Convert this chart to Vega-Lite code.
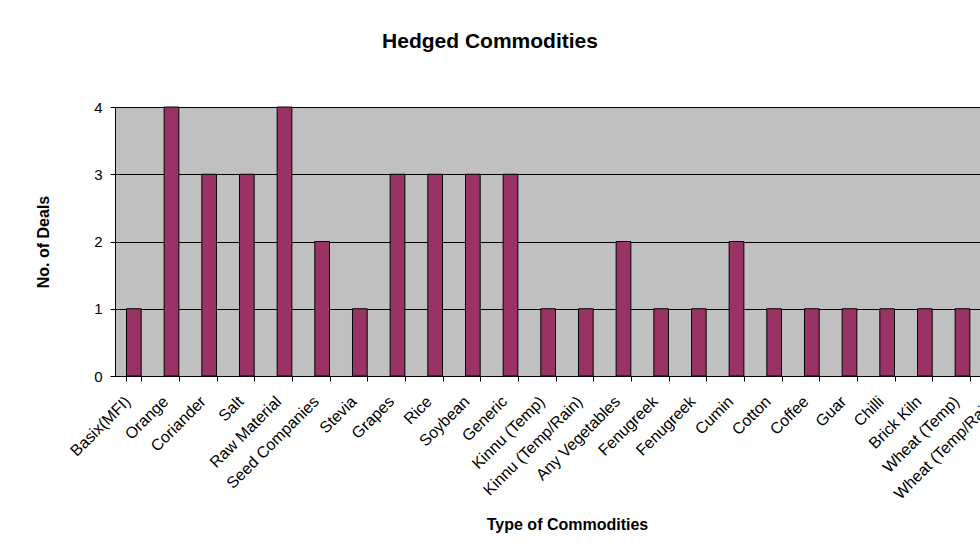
{
  "$schema": "https://vega.github.io/schema/vega-lite/v6.json",
  "autosize": {"type": "none"},
  "padding": {"left": 115, "top": 107, "right": 0, "bottom": 175},
  "width": 904,
  "height": 269,
  "background": "white",
  "title": {
    "text": "Hedged Commodities",
    "font": "Liberation Sans",
    "fontSize": 21,
    "fontWeight": "bold",
    "color": "black",
    "anchor": "middle",
    "dx": -77,
    "offset": 48
  },
  "data": {
    "values": [
      {"commodity": "Basix(MFI)", "deals": 1},
      {"commodity": "Orange", "deals": 4},
      {"commodity": "Coriander", "deals": 3},
      {"commodity": "Salt", "deals": 3},
      {"commodity": "Raw Material", "deals": 4},
      {"commodity": "Seed Companies", "deals": 2},
      {"commodity": "Stevia", "deals": 1},
      {"commodity": "Grapes", "deals": 3},
      {"commodity": "Rice", "deals": 3},
      {"commodity": "Soybean", "deals": 3},
      {"commodity": "Generic", "deals": 3},
      {"commodity": "Kinnu (Temp)", "deals": 1},
      {"commodity": "Kinnu (Temp/Rain)", "deals": 1},
      {"commodity": "Any Vegetables", "deals": 2},
      {"commodity": "Fenugreek", "deals": 1},
      {"commodity": "Fenugreek ", "deals": 1},
      {"commodity": "Cumin", "deals": 2},
      {"commodity": "Cotton", "deals": 1},
      {"commodity": "Coffee", "deals": 1},
      {"commodity": "Guar", "deals": 1},
      {"commodity": "Chilli", "deals": 1},
      {"commodity": "Brick Kiln", "deals": 1},
      {"commodity": "Wheat (Temp)", "deals": 1},
      {"commodity": "Wheat (Temp/Rain)", "deals": 1}
    ]
  },
  "mark": {"type": "bar", "color": "#993366", "stroke": "black", "strokeWidth": 1},
  "encoding": {
    "x": {
      "field": "commodity",
      "type": "nominal",
      "sort": null,
      "scale": {"paddingInner": 0.61, "paddingOuter": 0.305},
      "axis": {
        "title": "Type of Commodities",
        "titleFont": "Liberation Sans",
        "titleFontSize": 16,
        "titleFontWeight": "bold",
        "titleColor": "black",
        "titlePadding": 15,
        "labelAngle": -45,
        "labelFont": "Liberation Sans",
        "labelFontSize": 16,
        "labelColor": "black",
        "labelPadding": 12,
        "labelOffset": -12,
        "tickBand": "extent",
        "tickColor": "black",
        "tickSize": 5,
        "domainColor": "black",
        "labelOverlap": false
      }
    },
    "y": {
      "field": "deals",
      "type": "quantitative",
      "scale": {"domain": [0, 4], "nice": false},
      "axis": {
        "title": "No. of Deals",
        "titleFont": "Liberation Sans",
        "titleFontSize": 16,
        "titleFontWeight": "bold",
        "titleColor": "black",
        "titlePadding": 42,
        "values": [0, 1, 2, 3, 4],
        "labelFont": "Liberation Sans",
        "labelFontSize": 15,
        "labelColor": "black",
        "labelPadding": 8,
        "tickColor": "black",
        "tickSize": 5,
        "domainColor": "black",
        "grid": true,
        "gridColor": "black",
        "gridOpacity": 1
      }
    }
  },
  "config": {
    "view": {"fill": "#C0C0C0", "stroke": "black", "strokeWidth": 1}
  }
}
